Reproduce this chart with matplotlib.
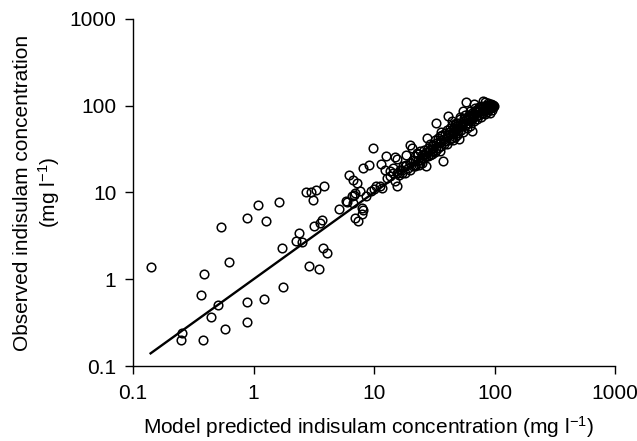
import matplotlib
matplotlib.use("Agg")
import matplotlib.pyplot as plt
from matplotlib.ticker import FixedLocator, FixedFormatter, NullLocator

plt.rcParams['font.family'] = ['Liberation Sans', 'DejaVu Sans']
plt.rcParams['mathtext.fontset'] = 'custom'
plt.rcParams['mathtext.rm'] = 'Liberation Sans'
plt.rcParams['mathtext.it'] = 'Liberation Sans'

# predicted vs observed (mg/l)
# sparse low / mid range
pred_low = [0.141, 0.254, 0.25, 0.38, 0.37, 0.39, 0.44, 0.51, 0.58, 0.54,
            0.63, 0.89, 1.08, 1.28, 1.63, 0.89, 0.89, 1.23, 1.75, 1.71,
            2.24, 2.39, 2.51, 2.71, 3.0, 3.28, 3.13, 3.87, 3.18, 3.57,
            3.72, 2.9, 3.47, 3.75, 4.07, 5.15, 5.93, 6.8, 6.95, 7.4,
            6.24, 6.73, 7.2, 6.95, 6.6, 7.7, 7.9, 7.9, 8.05, 9.1,
            9.9, 11.4, 12.6, 14.8, 15.4, 10.4, 11.2, 11.7, 12.3, 13.5,
            14.5, 15.4, 16.5, 17.5, 15.4, 15.0, 13.5, 14.5, 12.7, 19.9,
            20.5, 22.6, 18.6, 21.2, 21.9, 18.6, 23.4, 27.2, 27.4, 37.6,
            8.5, 9.5, 10.0, 5.9, 6.7, 8.1]
obs_low = [1.40, 0.24, 0.20, 0.20, 0.65, 1.15, 0.37, 0.50, 0.27, 4.0,
           1.6, 5.1, 7.1, 4.7, 7.7, 0.55, 0.32, 0.59, 0.81, 2.27,
           2.75, 3.4, 2.7, 10.1, 10.0, 10.8, 8.1, 11.8, 4.1, 4.4,
           4.8, 1.43, 1.30, 2.27, 2.03, 6.5, 7.7, 9.3, 5.1, 4.7,
           16.1, 14.1, 12.9, 9.9, 9.1, 10.4, 6.7, 5.6, 19.2, 21.0,
           32.7, 21.5, 26.6, 25.6, 24.3, 12.0, 12.0, 11.3, 18.4, 17.6,
           19.2, 16.8, 18.4, 20.0, 11.8, 13.4, 15.4, 16.8, 14.7, 35.6,
           32.7, 28.5, 27.3, 23.9, 21.0, 21.0, 21.0, 20.0, 42.6, 22.9,
           9.0, 10.5, 11.0, 7.9, 7.6, 6.3]

# dense band, 15-100 mg/l
pred_high = [16, 17, 18, 19, 20, 21, 22, 23, 24, 25, 26, 27, 28, 29, 30,
             17, 18, 20, 21, 22, 22, 23, 24, 24, 25, 25, 26, 26, 27, 28,
             28, 29, 29, 30, 30, 31, 31, 32, 32, 33, 33, 33, 34, 34, 35,
             35, 35, 36, 36, 37, 38, 38, 39, 39, 40, 40, 40, 41, 41, 42,
             42, 43, 43, 44, 44, 45, 45, 46, 46, 47, 47, 48, 48, 49, 50,
             50, 50, 51, 52, 52, 53, 54, 54, 55, 55, 56, 56, 57, 58, 58,
             59, 60, 60, 61, 62, 62, 63, 64, 65, 65, 66, 67, 68, 68, 69,
             70, 70, 71, 72, 73, 74, 75, 76, 77, 78, 79, 80, 80, 81, 82,
             83, 84, 85, 86, 87, 88, 88, 89, 90, 91, 92, 93, 94, 95, 96,
             97, 98, 99, 44, 52, 63, 75, 36, 48, 57, 69, 84]
obs_high = [16, 18, 17, 19, 22, 20, 23, 24, 22, 25, 28, 26, 29, 27, 32,
            17, 20, 18, 24, 26, 20, 28, 24, 30, 27, 22, 31, 25, 29, 33,
            26, 31, 36, 28, 34, 30, 35, 40, 29, 37, 63, 31, 42, 33, 30,
            45, 38, 40, 34, 46, 41, 36, 48, 39, 44, 36, 52, 77, 46, 40,
            50, 47, 56, 42, 60, 50, 40, 55, 48, 62, 44, 52, 58, 46, 56,
            64, 48, 41, 60, 70, 52, 62, 58, 86, 50, 66, 72, 60, 109, 68,
            55, 74, 64, 78, 58, 70, 76, 66, 51, 82, 72, 80, 105, 66, 86,
            76, 90, 70, 84, 92, 78, 88, 96, 74, 86, 100, 112, 82, 94, 88,
            98, 80, 92, 102, 84, 107, 96, 90, 100, 82, 98, 104, 94, 100, 90,
            102, 96, 98, 66, 74, 88, 96, 50, 64, 78, 94, 110]

line_x = [0.14, 100]

ticks = [0.1, 1, 10, 100, 1000]
tick_labels = ['0.1', '1', '10', '100', '1000']

fig = plt.figure(figsize=(6.37, 4.41), dpi=100)
ax = fig.add_axes([0.2088, 0.170, 0.7567, 0.787])

ax.plot(pred_low + pred_high, obs_low + obs_high, linestyle='none', marker='o',
        markersize=6.2, markerfacecolor='none', markeredgecolor='black',
        markeredgewidth=1.1)
ax.plot(line_x, line_x, color='black', linewidth=1.7)

ax.set_xscale('log')
ax.set_yscale('log')
ax.set_xlim(0.1, 1000)
ax.set_ylim(0.1, 1000)

for axis in (ax.xaxis, ax.yaxis):
    axis.set_major_locator(FixedLocator(ticks))
    axis.set_major_formatter(FixedFormatter(tick_labels))
    axis.set_minor_locator(NullLocator())

ax.spines['top'].set_visible(False)
ax.spines['right'].set_visible(False)
for s in ('left', 'bottom'):
    ax.spines[s].set_linewidth(1.0)
ax.tick_params(direction='out', length=6, width=1.0, pad=6, labelsize=15)
ax.tick_params(axis='x', pad=7)

ax.set_xlabel('Model predicted indisulam concentration (mg l$^{-1}$)', fontsize=15, va='center')
ax.xaxis.set_label_coords(0.488, -0.176)
ax.set_ylabel('Observed indisulam concentration\n(mg l$^{-1}$)', fontsize=15,
              linespacing=1.2, va='center')
ax.yaxis.set_label_coords(-0.198, 0.5)

fig.savefig('out.png', dpi=100)
plt.close(fig)
